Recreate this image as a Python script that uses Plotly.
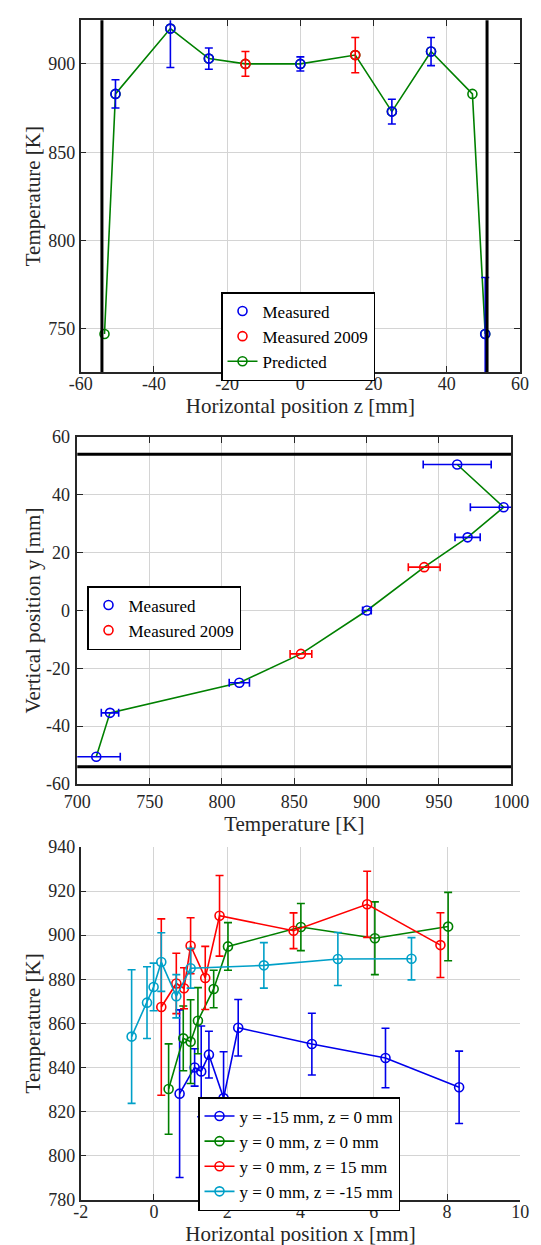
import plotly.graph_objects as go

# ---------------- Data ----------------
# Top panel: temperature vs horizontal position z
top_z_pred = [-53.5, -50.5, -35.5, -25, -15, 0, 15, 25, 35.7, 47, 50.5]
top_T_pred = [747, 883, 920, 903, 900, 900, 905, 873, 907, 883, 747]
top_z_meas = [-50.5, -35.5, -25, 0, 25, 35.7, 50.5]
top_T_meas = [883, 920, 903, 900, 873, 907, 747]
top_err_meas = [8, 22, 6, 4, 7, 8, 32]
top_z_2009 = [-15, 15]
top_T_2009 = [900, 905]
top_err_2009 = [7, 10]
top_walls_z = [-54.2, 51]
top_xticks = [-60, -40, -20, 0, 20, 40, 60]
top_xtick_text = ["-60", "-40", "-20", "0", "20", "40", "60"]
top_yticks = [750, 800, 850, 900]
top_ytick_text = ["750", "800", "850", "900"]

# Middle panel: vertical position vs temperature
mid_y_meas = [50.5, 35.7, 25.3, 0, -25, -35.4, -50.6]
mid_T_meas = [962.6, 994.7, 969.8, 900.2, 812, 722.6, 713.1]
mid_err_meas = [23.5, 23, 8.7, 3, 7, 6, 16.6]
mid_y_2009 = [15, -15]
mid_T_2009 = [939.8, 854.6]
mid_err_2009 = [11, 7.5]
mid_y_pred = [50.5, 35.7, 25.3, 15, 0, -15, -25, -35.4, -50.6]
mid_T_pred = [962.6, 994.7, 969.8, 939.8, 900.2, 854.6, 812, 722.6, 713.1]
mid_walls_y = [54, -54]
mid_xticks = [700, 750, 800, 850, 900, 950, 1000]
mid_xtick_text = ["700", "750", "800", "850", "900", "950", "1000"]
mid_yticks = [-60, -40, -20, 0, 20, 40, 60]
mid_ytick_text = ["-60", "-40", "-20", "0", "20", "40", "60"]

# Bottom panel: temperature vs horizontal position x
bot_names = ["y = -15 mm, z = 0 mm", "y = 0 mm, z = 0 mm",
             "y = 0 mm, z = 15 mm", "y = 0 mm, z = -15 mm"]
bot_x_a = [0.70, 1.11, 1.29, 1.50, 1.90, 2.30, 4.31, 6.32, 8.33]
bot_T_a = [828.1, 840.0, 838.2, 845.8, 826.1, 858.0, 850.6, 844.3, 831.0]
bot_e_a = [38, 8.5, 20.6, 10.6, 21, 12.8, 14, 13.5, 16.4]
bot_x_b = [0.40, 0.80, 1.00, 1.20, 1.63, 2.02, 4.01, 6.03, 8.03]
bot_T_b = [830.2, 853.2, 851.7, 861.2, 875.6, 894.9, 903.7, 898.6, 903.9]
bot_e_b = [20.5, 14.7, 19, 15, 8.5, 10.8, 10.7, 16.5, 15.5]
bot_x_c = [0.20, 0.61, 0.82, 1.00, 1.40, 1.79, 3.81, 5.82, 7.82]
bot_T_c = [867.4, 878.1, 875.9, 895.2, 880.6, 908.8, 902.0, 914.0, 895.5]
bot_e_c = [40, 13.7, 9.3, 12.7, 14.3, 18.3, 8.1, 15, 14.7]
bot_x_d = [-0.61, -0.19, -0.01, 0.20, 0.61, 1.00, 3.00, 5.02, 7.03]
bot_T_d = [854.0, 869.4, 876.5, 887.8, 872.3, 885.0, 886.3, 889.2, 889.3]
bot_e_d = [30.3, 16.3, 10.8, 13.3, 9.8, 9, 10.3, 12, 9.6]
bot_xticks = [-2, 0, 2, 4, 6, 8, 10]
bot_xtick_text = ["-2", "0", "2", "4", "6", "8", "10"]
bot_yticks = [780, 800, 820, 840, 860, 880, 900, 920, 940]
bot_ytick_text = ["780", "800", "820", "840", "860", "880", "900", "920", "940"]

BLUE = "rgb(0,0,235)"
RED = "rgb(255,0,0)"
GREEN = "rgb(0,128,0)"
CYAN = "rgb(0,160,200)"
FONT = "Liberation Serif, Times New Roman, serif"
GRID = "#d4d4d4"

W, H = 541, 1245

fig = go.Figure()

mk = dict(symbol="circle-open", size=9, line=dict(width=1.6))

# ---- top panel ----
fig.add_trace(go.Scatter(x=top_z_pred, y=top_T_pred, mode="lines+markers", name="Predicted",
                         line=dict(color=GREEN, width=1.6), marker=dict(color=GREEN, **mk),
                         xaxis="x", yaxis="y", legend="legend", legendrank=3))
fig.add_trace(go.Scatter(x=top_z_meas, y=top_T_meas, mode="markers", name="Measured",
                         marker=dict(color=BLUE, **mk),
                         error_y=dict(type="data", array=top_err_meas, color=BLUE, thickness=1.6, width=4),
                         xaxis="x", yaxis="y", legend="legend", legendrank=1))
fig.add_trace(go.Scatter(x=top_z_2009, y=top_T_2009, mode="markers", name="Measured 2009",
                         marker=dict(color=RED, **mk),
                         error_y=dict(type="data", array=top_err_2009, color=RED, thickness=1.6, width=4),
                         xaxis="x", yaxis="y", legend="legend", legendrank=2))
for zw in top_walls_z:
    fig.add_trace(go.Scatter(x=[zw, zw], y=[700, 950], mode="lines", showlegend=False,
                             line=dict(color="black", width=3), xaxis="x", yaxis="y"))

# ---- middle panel ----
fig.add_trace(go.Scatter(x=mid_T_pred, y=mid_y_pred, mode="lines", showlegend=False,
                         line=dict(color=GREEN, width=1.6), xaxis="x2", yaxis="y2"))
fig.add_trace(go.Scatter(x=mid_T_meas, y=mid_y_meas, mode="markers", name="Measured",
                         marker=dict(color=BLUE, **mk),
                         error_x=dict(type="data", array=mid_err_meas, color=BLUE, thickness=1.6, width=4),
                         xaxis="x2", yaxis="y2", legend="legend2"))
fig.add_trace(go.Scatter(x=mid_T_2009, y=mid_y_2009, mode="markers", name="Measured 2009",
                         marker=dict(color=RED, **mk),
                         error_x=dict(type="data", array=mid_err_2009, color=RED, thickness=1.6, width=4),
                         xaxis="x2", yaxis="y2", legend="legend2"))
for yw in mid_walls_y:
    fig.add_trace(go.Scatter(x=[650, 1050], y=[yw, yw], mode="lines", showlegend=False,
                             line=dict(color="black", width=3), xaxis="x2", yaxis="y2"))

# ---- bottom panel ----
series = [(bot_x_a, bot_T_a, bot_e_a, BLUE), (bot_x_b, bot_T_b, bot_e_b, GREEN),
          (bot_x_c, bot_T_c, bot_e_c, RED), (bot_x_d, bot_T_d, bot_e_d, CYAN)]
for name, (xs, ts, es, col) in zip(bot_names, series):
    fig.add_trace(go.Scatter(x=xs, y=ts, mode="lines+markers", name=name,
                             line=dict(color=col, width=1.6), marker=dict(color=col, **mk),
                             error_y=dict(type="data", array=es, color=col, thickness=1.6, width=4),
                             xaxis="x3", yaxis="y3", legend="legend3"))


def px(v):
    return v / W


def py(v):
    return 1 - v / H


tickfont = dict(family=FONT, size=18, color="#262626")
titlefont = dict(family=FONT, size=21, color="#262626")


def ax(dom, rng, tv, tt, title, mirror=True, anchor=None, standoff=6, lstand=0):
    d = dict(domain=dom, range=rng, tickmode="array", tickvals=tv, ticktext=tt,
             showgrid=True, gridcolor=GRID, gridwidth=1,
             zeroline=False, showline=True, linecolor="#262626", linewidth=1.5,
             ticks="inside", ticklen=6, tickcolor="#262626", tickwidth=1.2,
             tickfont=tickfont, ticklabelstandoff=lstand,
             title=dict(text=title, font=titlefont, standoff=standoff),
             anchor=anchor, automargin=False)
    if mirror:
        d["mirror"] = "ticks"
    return d


layout = dict(
    width=W, height=H, margin=dict(l=0, r=0, t=0, b=0),
    paper_bgcolor="white", plot_bgcolor="white",
    xaxis=ax([px(72.7), px(512)], [-60, 60], top_xticks, top_xtick_text,
             "Horizontal position z [mm]", anchor="y", standoff=2, lstand=-5),
    yaxis=ax([py(364), py(12.3)], [725.5, 924.7], top_yticks, top_ytick_text,
             "Temperature [K]", anchor="x", standoff=2),
    xaxis2=ax([px(69.3), px(503.3)], [700, 1000], mid_xticks, mid_xtick_text,
              "Temperature [K]", anchor="y2", standoff=0, lstand=1),
    yaxis2=ax([py(776), py(429)], [-60, 60], mid_yticks, mid_ytick_text,
              "Vertical position y [mm]", anchor="x2", standoff=0, lstand=2),
    xaxis3=ax([px(72.7), px(512.3)], [-2, 10], bot_xticks, bot_xtick_text,
              "Horizontal position x [mm]", mirror=False, anchor="y3", standoff=0, lstand=-5),
    yaxis3=ax([py(1191.7), py(839)], [780, 940], bot_yticks, bot_ytick_text,
              "Temperature [K]", mirror=False, anchor="x3", standoff=2),
)
legfont = dict(family=FONT, size=17, color="black")
for key, xx, yy in [("legend", 213, 284), ("legend2", 79, 578), ("legend3", 190, 1089)]:
    layout[key] = dict(x=px(xx), y=py(yy), xanchor="left", yanchor="top",
                       bgcolor="white", bordercolor="black", borderwidth=1.5,
                       font=legfont, tracegroupgap=0, itemwidth=30)

fig.update_layout(**layout)
fig.write_html("out.html")
